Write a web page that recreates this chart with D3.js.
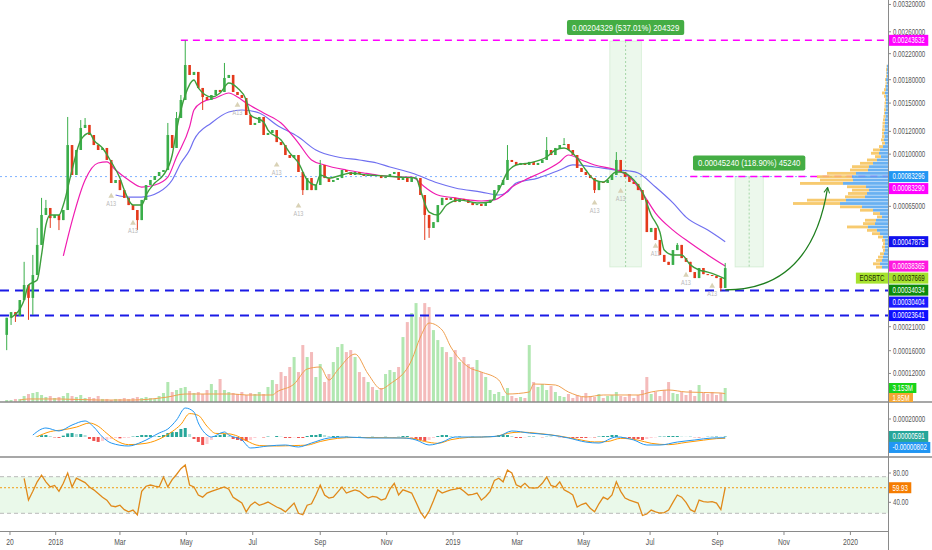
<!DOCTYPE html>
<html>
<head>
<meta charset="utf-8">
<script src="https://cdn.jsdelivr.net/npm/d3@7"></script>
<style>
html,body{margin:0;padding:0;background:#fff;}
svg{display:block;font-family:"Liberation Sans","DejaVu Sans",Arial,sans-serif;}
</style>
</head>
<body>
<svg id="chart" width="932" height="550"></svg>
<script>
// ================= DATA (prices in satoshi, 1 sat = 0.00000001 BTC) =================
const firstCandleDate = "2017-11-17";
const candleDays = 4;
const firstOpen = 19200;
const closes = [
23100,24500,23600,27700,32100,28300,35300,46500,60400,64100,
58800,60400,57800,63000,107600,84400,103400,123300,126300,116600,
107600,103400,105100,95400,79000,81000,74500,69800,65700,63000,
57800,68600,77700,81000,83700,86500,87900,116600,105100,133400,
153700,201600,186700,191100,168800,157300,153700,159800,166200,163600,
182400,186700,163600,159800,156100,136600,126300,128300,134500,116600,
118500,121300,110200,107600,99300,97000,99300,86500,74500,82300,
74500,77700,91600,82300,79700,81000,82300,87900,86500,84400,
86500,85100,83700,84400,83700,84400,82300,83000,85100,86500,
81000,82300,79700,82300,82300,71500,60400,54000,56800,65700,
69800,68600,69800,67400,69200,68600,66900,65700,66300,65200,
66900,68600,74500,77700,81000,95400,93900,91600,93100,91600,
93900,91600,93100,95400,103400,99300,105100,107600,108500,103400,
99300,89400,86500,84400,82300,74500,79700,79000,81000,84400,
95400,86500,83000,79700,78400,74500,68600,52100,54000,48600,
42500,39900,38800,44400,46500,41300,39900,36300,34300,37700,
35600,35300,35000,34300,31200,37669];
const highWicks = [[4,39900],[6,42500],[7,54000],[8,69800],[9,68600],[14,134500],[17,131300],[18,133400],
 [37,128300],[39,139900],[40,159800],[41,243632],[50,204800],[72,95400],[115,107600],[124,114700],
 [128,113800],[140,101700],[154,47300],[165,39500]];
const lowWicks = [[0,16100],[1,21400],[2,22100],[5,22600],[6,23800],[10,54000],[12,53000],[30,53000],
 [45,142100],[68,71500],[96,48600],[97,49500],[135,72700],[164,30300]];
// daily volume in millions
const volumes = [
0.45,0.45,0.68,0.68,1.35,1.8,2.03,2.25,1.58,1.13,1.35,0.9,1.13,1.35,2.03,
1.35,1.13,1.58,0.9,1.13,0.9,1.35,0.68,0.68,0.45,0.68,0.68,0.9,0.68,0.9,
1.13,0.9,1.13,0.9,0.68,1.35,2.03,4.5,2.25,2.7,3.15,3.38,2.48,2.03,2.25,1.8,2.7,4.05,
2.7,5.18,2.7,2.25,2.03,1.8,2.25,1.58,2.03,1.8,2.25,1.8,
3.38,4.95,4.05,6.75,5.85,7.88,10.13,6.75,12.83,10.13,11.25,5.63,8.55,4.5,6.3,9.0,
12.38,13.05,11.25,11.7,10.13,6.75,5.63,4.5,3.38,2.7,3.15,6.3,7.2,6.75,7.88,
14.63,18.0,20.03,22.28,19.13,22.28,21.38,16.2,13.95,12.38,11.25,10.13,11.7,9.0,
10.13,8.55,7.88,9.45,6.75,5.63,2.7,1.8,2.25,1.35,3.15,1.35,0.9,1.13,0.9,12.83,4.5,
3.38,4.05,2.7,3.6,2.25,1.35,1.13,1.8,0.9,1.58,1.13,2.03,1.35,1.13,1.8,0.9,1.35,1.58,
2.25,1.35,1.13,1.8,0.9,1.58,2.7,5.63,1.8,2.25,1.35,2.7,4.5,2.03,1.8,2.25,1.58,2.7,
1.35,3.83,2.03,1.8,2.25,1.58,2.03,3.153];
const volumeMA = [[3,0.45],[5,0.68],[12,0.68],[21,0.45],[29,0.45],[37,1.13],[41,1.8],[47,1.8],[52,1.8],
 [55,1.58],[61,1.58],[62,2.25],[66,4.05],[69,7.43],[72,7.88],[74,4.95],[76,7.2],[80,10.8],[83,6.3],
 [86,2.93],[88,4.05],[93,9.45],[95,14.63],[97,17.78],[100,16.2],[102,12.38],[104,9.68],[106,7.88],
 [109,6.75],[113,4.95],[115,1.8],[120,2.25],[121,4.05],[126,3.83],[129,2.25],[133,1.13],[137,1.58],
 [145,1.58],[148,2.25],[152,2.7],[156,2.25],[164,2.03],[165,1.85]];
// moving averages: [candle index, price in sat]
const maFast = [[1,23100],[4,27700],[5,32100],[7,33700],[8,42500],[9,55400],[10,60400],[12,60400],[13,65700],
 [15,87900],[17,112000],[19,118500],[20,112000],[22,105100],[24,93900],[26,82300],[27,74500],[29,65700],
 [31,65700],[32,71500],[34,79000],[36,84400],[38,99300],[39,121300],[41,159800],[43,179600],[44,168800],
 [47,157300],[49,162300],[51,175400],[53,168800],[55,153700],[56,136600],[59,129300],[60,121300],
 [63,112000],[65,101000],[67,93100],[69,81000],[71,77700],[72,84400],[74,82300],[77,84400],[79,85800],
 [81,85100],[83,84400],[87,83700],[90,83000],[94,82300],[95,74500],[97,61900],[99,60400],[101,65700],
 [104,68600],[108,66900],[111,67400],[113,74500],[115,86500],[117,91600],[120,93100],[124,97700],
 [126,103400],[128,105100],[131,97000],[133,87900],[135,81000],[137,79700],[140,86500],[141,86500],
 [144,81000],[146,73300],[148,60400],[150,52100],[151,44400],[153,42500],[155,42500],[157,38800],
 [159,37000],[161,36300],[163,35300],[165,34034]];
const ma50 = [[13,42100],[15,57300],[18,81000],[21,93100],[23,93900],[25,87900],[28,81000],[31,76400],
 [34,77700],[37,83000],[39,97700],[42,124300],[43,142100],[45,151300],[48,156100],[51,162300],[53,157300],
 [55,150100],[59,138800],[63,128300],[67,109300],[70,95400],[73,91600],[78,87900],[82,85800],[85,84400],
 [91,83000],[93,83000],[96,76400],[99,71500],[103,69800],[109,68000],[112,68600],[114,71500],[116,76400],
 [119,81000],[123,86500],[127,93900],[129,99300],[132,95400],[135,91600],[140,87900],[143,83000],
 [146,72700],[149,61400],[153,53000],[157,47300],[160,43600],[165,38365]];
const ma100 = [[25,71500],[28,70300],[31,70300],[35,73300],[38,81000],[40,93100],[42,103400],[43,112000],
 [47,128300],[51,139900],[54,142100],[58,138800],[62,126300],[67,114700],[71,103400],[76,97700],
 [81,95400],[85,93100],[88,90100],[93,85800],[99,79000],[103,75800],[109,73300],[113,71500],[115,73300],
 [117,79000],[122,82300],[127,87900],[130,91600],[135,90100],[140,87900],[143,87200],[145,85800],
 [149,76400],[153,66900],[156,59300],[161,53000],[165,47875]];
// MACD (sat)
const macdLine = [[6,2200],[9,10000],[12,6700],[15,13300],[18,17800],[20,11100],[22,0],[24,-6700],[28,-10000],
 [31,-5600],[35,4400],[37,8900],[39,18900],[41,32200],[43,27800],[44,15600],[46,2200],[47,0],[50,5600],
 [51,2200],[54,-3300],[56,-12200],[60,-10000],[64,-8900],[67,-11100],[70,-6700],[74,-1100],[78,0],
 [83,-1100],[91,-1100],[94,-3300],[97,-8900],[100,-5600],[103,0],[109,0],[113,1100],[116,6700],[120,4400],
 [125,2200],[129,-1100],[133,-5600],[136,-6700],[140,0],[144,-3300],[147,-8900],[150,-8900],[154,-5600],
 [158,-3300],[162,-1100],[165,-802]];
const macdSignal = [[7,500],[10,6000],[13,8000],[16,11000],[19,15500],[21,12000],[23,4000],[25,-3500],
 [28,-8500],[32,-7000],[36,0],[38,6000],[40,14000],[42,26000],[44,24000],[46,12000],[48,4000],[51,3500],
 [53,1000],[55,-4000],[58,-9500],[62,-10000],[66,-9500],[69,-9000],[72,-5000],[76,-1500],[80,-500],
 [88,-800],[93,-1500],[96,-5000],[99,-7000],[102,-3000],[106,-500],[112,500],[115,4000],[118,5500],
 [122,4000],[127,1000],[131,-2500],[135,-5500],[138,-5000],[141,-1500],[145,-3500],[148,-7000],
 [152,-8500],[156,-6000],[160,-3500],[163,-1800],[165,-1393]];
const macdHist = [null,null,null,null,null,null,null,
 500,2000,2200,1000,-500,-1000,1500,4000,4400,3300,3300,2200,
 -2200,-4400,-5500,-4400,-3300,-2200,-1100,-1500,-1100,-1000,
 500,1100,2200,2200,2200,1100,1100,2200,4400,5500,5500,8900,10000,
 3300,-2200,-5500,-8900,-7800,-3300,1100,2200,3300,1100,-2200,-3300,-4400,-4400,-3300,-1100,
 0,-500,500,0,1100,500,-1100,-1100,-500,-1100,-1100,1100,2200,2200,3300,2200,1100,1100,1100,500,500,0,0,
 300,-300,0,300,-300,0,300,0,-300,300,
 1100,1100,-500,-2200,-3300,-4400,-3300,-1100,1100,2200,2200,1100,500,500,0,-300,300,0,-300,300,
 500,1100,2200,2200,2200,1100,-1100,-1100,-500,500,500,0,-300,300,300,0,-300,-500,-500,-1100,-1100,-1100,-1100,-500,-500,
 500,1100,1100,2200,2200,500,-500,-1100,-2200,-2200,-3300,-2200,-1100,-500,500,500,1100,1100,1100,500,
 300,300,-300,-500,-300,300,300,500,300,591];
// RSI from candle index 4
const rsiStart = 4;
const rsiValues = [
72.7,43,55,68,77,68,61,63,55,66, 80,61,73,70,67,61,57,52,47,43, 35,34,36,30,27,29.4,23,55,62,63.6,
62,61,74.5,61,71,78,86,91,63.6,61, 50,47,52.7,55,57,59,61,58,47,43, 39,27,36,40.4,36,38,40.4,37,33.6,31,
27,33,39,25,23,36,38,50,63.6,50, 45.8,47,54,61,52.7,55,57,55,50,45.8, 48,47,43,45,58,66,50,57,55,52.7,
40,27,18.5,28,42,57,52.7,55,57,58, 59.5,55,50,51,52.7,43,48,55,70,73, 68,84,80,64,61,66,60,59.5,60,66,
74.5,63,61,68,57,54,50,33.6,37,39, 32,27,38,47,44,50,68,55,45.8,43, 41,39,22,24,29.4,27,25.4,26,29.4,40,
50,47,40,30,27,43,41,40.4,41,39, 30,59.93];
const rsiBands = [75, 25];
// visible-range volume profile (rows top -> bottom)
const profileTop = 202000, profileBottom = 37500;
const profileUp = [1,1,1.5,1,2,1.5,2,2,3,2,2,2,2.5,2,3,2.5,3,3,3.5,3,4,3.5,4,3,5,8,9,7,11,15,19,20,32,36,35,45,22,19,21,23,42,48,26,15,8,6,12,13,20,11,8,5,3,3,3,3,4,5,6,8,6];
const profileDown = [0.5,1,0.5,1,1,1,1,2,3,2,1,1.5,1,2,1,2,2,2.5,2,3,2,2.5,3,3,4,7,8,6,10,13,17,18,29,35,33,43,19,17,19,20,39,47,22,13,7,5,11,12,21,10,8,5,3,2,3,2,4,5,6,7,6];
// axes
const xTickDates = ["2017-11-20","2018-01-01","2018-03-01","2018-05-01","2018-07-01","2018-09-01","2018-11-01",
 "2019-01-01","2019-03-01","2019-05-01","2019-07-01","2019-09-01","2019-11-01","2020-01-01"];
const xTickLabels = ["20","2018","Mar","May","Jul","Sep","Nov","2019","Mar","May","Jul","Sep","Nov","2020"];
const priceTicks = [320000,260000,220000,180000,150000,120000,100000,65000,21000,16000,12000];
const macdTicks = [20000];
const rsiTicks = [80, 40];
// drawings
const hLevels = [
 {p:83296, from:null, color:"#7fb2ff", dash:"2 3", w:1},
 {p:243632, from:"2018-04-26", color:"#ff00ff", dash:"7 5", w:1.5},
 {p:83290, from:"2019-08-07", color:"#ff00ff", dash:"7 5", w:1.5},
 {p:30404, from:null, color:"#1a1ae6", dash:"9 6", w:2},
 {p:23641, from:null, color:"#1a1ae6", dash:"9 6", w:2}];
const measures = [
 {from:"2019-05-25", to:"2019-06-23", p0:38050, p1:242379, text:"0.00204329 (537.01%) 204329"},
 {from:"2019-09-17", to:"2019-10-13", p0:38049, p1:83289, text:"0.00045240 (118.90%) 45240"}];
const arrowPts = [["2019-09-08",30600],["2019-11-26",30600],["2019-12-11",75800]];
const signalMarks = [[24,72700],[29,57800],[53,151300],[62,93900],[67,66900],[135,68600],[141,75800],[149,47300],[156,36300],[162,32700]];
const priceLabels = [
 {p:243632, bg:"#ff00ff"},{p:83296, bg:"#2196f3"},{p:83290, bg:"#ff00ff"},{p:47875, bg:"#1010ee"},
 {p:38365, bg:"#ff1adf"},{p:37669, bg:"#a6e22e", fg:"#1b2a00", sym:"EOSBTC"},{p:34034, bg:"#0c8a0c"},
 {p:30404, bg:"#1a1aff"},{p:23641, bg:"#0f0fff"}];
const volLabels = [{v:3.153, text:"3.153M", bg:"#19d419"},{v:1.85, text:"1.85M", bg:"#f5a733"}];
const macdLabels = [{v:591, text:"0.00000591", bg:"#26a69a"},{v:-802, text:"-0.00000802", bg:"#2196f3"}];
const rsiLast = 59.93;

// ================= LAYOUT / SCALES =================
const W = 932, PR = 888, MAIN_B = 402, MACD_B = 457, RSI_B = 531;
const UP = "#3aae4a", DN = "#e4391b";
const parseD = d3.utcParse("%Y-%m-%d");
const t0 = parseD(firstCandleDate);
const dateOf = i => d3.utcDay.offset(t0, i * candleDays);
const x = d3.scaleUtc().domain([parseD("2018-01-01"), parseD("2020-01-01")]).range([55.7, 850.4]);
const y = d3.scaleSymlog().constant(10000).domain([242379, 38050]).range([41, 267]);
const yVol = d3.scaleLinear().domain([0, 25]).range([MAIN_B, MAIN_B - 111]);
const yMacd = d3.scaleLinear().domain([0, 20000]).range([437, 419]);
const yRsi = d3.scaleLinear().domain([0, 100]).range([531.6, 458.4]);
const fmtP = v => (v / 1e8).toFixed(8);
const bw = 2.6;

const svg = d3.select("#chart");
svg.append("rect").attr("width", W).attr("height", 550).attr("fill", "#fff");
const defs = svg.append("defs");
const clip = (id, x0, y0, w, h) => defs.append("clipPath").attr("id", id).append("rect").attr("x", x0).attr("y", y0).attr("width", w).attr("height", h);
clip("cMain", 0, 0, PR, MAIN_B); clip("cMacd", 0, MAIN_B, PR, MACD_B - MAIN_B); clip("cRsi", 0, MACD_B, PR, RSI_B - MACD_B);
clip("cAxMain", PR, 0, W - PR, MAIN_B);
defs.append("marker").attr("id", "arr").attr("viewBox", "0 0 10 10").attr("refX", 8).attr("refY", 5)
  .attr("markerWidth", 7).attr("markerHeight", 7).attr("markerUnits", "userSpaceOnUse").attr("orient", "auto")
  .append("path").attr("d", "M1,1 L9,5 L1,9").attr("fill", "none").attr("stroke", "#1e7e1e").attr("stroke-width", 1.4);

function ctext(sel, x0, y0, str, o = {}) {
  const sx = o.sx ?? 0.72;
  return sel.append("text").attr("transform", `translate(${x0},${y0}) scale(${sx},1)`)
    .attr("font-size", o.size ?? 8.5).attr("fill", o.fill ?? "#555").attr("text-anchor", o.anchor ?? "start")
    .attr("dominant-baseline", "central").text(str);
}
function boxLabel(sel, x0, yc, str, bg, fg = "#fff", h = 11) {
  const t = ctext(sel, x0 + 3.5, yc, str, {fill: fg});
  const w = t.node().getComputedTextLength() * 0.72 + 7;
  sel.insert("rect", () => t.node()).attr("x", x0).attr("y", yc - h / 2).attr("width", w).attr("height", h).attr("fill", bg);
  return w;
}
function stack(arr, f, gap) {
  const s = arr.map(d => ({...d, yc: f(d)}));
  s.sort((a, b) => a.yc - b.yc);
  for (let k = 1; k < s.length; k++) if (s[k].yc < s[k - 1].yc + gap) s[k].yc = s[k - 1].yc + gap;
  return s;
}

// candles
const hiMap = new Map(highWicks), loMap = new Map(lowWicks);
const candles = closes.map((c, i) => {
  const o = i ? closes[i - 1] : firstOpen;
  return {i, d: dateOf(i), o, c, h: hiMap.get(i) ?? Math.max(o, c), l: loMap.get(i) ?? Math.min(o, c), v: volumes[i]};
});

// ================= MAIN PANE =================
const main = svg.append("g").attr("clip-path", "url(#cMain)");
// volume
main.append("g").selectAll("rect").data(candles).join("rect")
  .attr("x", d => x(d.d) - 1.5).attr("width", 3).attr("y", d => yVol(d.v)).attr("height", d => MAIN_B - yVol(d.v))
  .attr("fill", d => d.c >= d.o ? "#a9e4a9" : "#f3b4b4").attr("opacity", 0.9);
main.append("path").datum(volumeMA).attr("fill", "none").attr("stroke", "#f0a050").attr("stroke-width", 1)
  .attr("d", d3.line().x(d => x(dateOf(d[0]))).y(d => yVol(d[1])).curve(d3.curveMonotoneX));
// measure rectangles
measures.forEach(m => {
  const x0 = x(parseD(m.from)), x1 = x(parseD(m.to));
  main.append("rect").attr("x", x0).attr("width", x1 - x0).attr("y", y(m.p1)).attr("height", y(m.p0) - y(m.p1))
    .attr("fill", "rgba(110,200,110,0.13)").attr("stroke", "rgba(120,200,120,0.25)").attr("stroke-width", 0.8);
  main.append("line").attr("x1", (x0 + x1) / 2).attr("x2", (x0 + x1) / 2).attr("y1", y(m.p1)).attr("y2", y(m.p0))
    .attr("stroke", "#a5d6a7").attr("stroke-dasharray", "2 2");
});
// horizontal levels
hLevels.forEach(l => {
  main.append("line").attr("x1", l.from ? x(parseD(l.from)) : 0).attr("x2", PR).attr("y1", y(l.p)).attr("y2", y(l.p))
    .attr("stroke", l.color).attr("stroke-width", l.w).attr("stroke-dasharray", l.dash);
});
// volume profile
const yProf = d3.scaleBand().domain(d3.range(profileUp.length)).range([y(profileTop), y(profileBottom)]).paddingInner(0.15);
const wProf = d3.scaleLinear().domain([0, 100]).range([0, 100]);
const gp = main.append("g");
profileUp.forEach((u, k) => {
  const dn = profileDown[k];
  gp.append("rect").attr("x", PR - wProf(u)).attr("width", wProf(u)).attr("y", yProf(k)).attr("height", yProf.bandwidth()).attr("fill", "#5aa9f0").attr("opacity", 0.9);
  gp.append("rect").attr("x", PR - wProf(u) - wProf(dn)).attr("width", wProf(dn)).attr("y", yProf(k)).attr("height", yProf.bandwidth()).attr("fill", "#f6c45f").attr("opacity", 0.9);
});
// moving averages
const maLine = d3.line().x(d => x(dateOf(d[0]))).y(d => y(d[1])).curve(d3.curveMonotoneX);
main.append("path").datum(ma100).attr("fill", "none").attr("stroke", "#7070f0").attr("stroke-width", 1.2).attr("d", maLine);
main.append("path").datum(ma50).attr("fill", "none").attr("stroke", "#f01cb0").attr("stroke-width", 1.2).attr("d", maLine);
// candles
const gc = main.append("g");
gc.selectAll("line").data(candles).join("line")
  .attr("x1", d => x(d.d)).attr("x2", d => x(d.d)).attr("y1", d => y(d.h)).attr("y2", d => y(d.l))
  .attr("stroke", d => d.c >= d.o ? UP : DN).attr("stroke-width", 1);
gc.selectAll("rect").data(candles).join("rect")
  .attr("x", d => x(d.d) - bw / 2).attr("width", bw)
  .attr("y", d => y(Math.max(d.o, d.c))).attr("height", d => Math.max(1, y(Math.min(d.o, d.c)) - y(Math.max(d.o, d.c))))
  .attr("fill", d => d.c >= d.o ? UP : DN);
main.append("path").datum(maFast).attr("fill", "none").attr("stroke", "#3d9f3d").attr("stroke-width", 1.4).attr("d", maLine);
// signal marks
signalMarks.forEach(s => {
  const cx = x(dateOf(s[0])), cy = y(s[1]);
  main.append("path").attr("d", d3.symbol(d3.symbolTriangle, 14)()).attr("transform", `translate(${cx},${cy + 3})`).attr("fill", "#d9d2b6");
  ctext(main, cx, cy + 11, "A13", {size: 6.5, fill: "#b9b9b9", anchor: "middle", sx: 0.85});
});
// arrow
{
  const p = arrowPts.map(a => [x(parseD(a[0])), y(a[1])]);
  main.append("path").attr("d", `M${p[0][0]},${p[0][1]} Q${p[1][0]},${p[1][1]} ${p[2][0]},${p[2][1]}`)
    .attr("fill", "none").attr("stroke", "#1e7e1e").attr("stroke-width", 1.3).attr("marker-end", "url(#arr)");
}
// measure labels
measures.forEach(m => {
  const cx = (x(parseD(m.from)) + x(parseD(m.to))) / 2, yb = y(m.p1) - 6;
  const g = svg.append("g");
  const t = ctext(g, cx, yb - 7.5, m.text, {size: 9.5, sx: 0.82, fill: "#fff", anchor: "middle"});
  const w = t.node().getComputedTextLength() * 0.82 + 10;
  g.insert("rect", () => t.node()).attr("x", cx - w / 2).attr("y", yb - 15).attr("width", w).attr("height", 15).attr("rx", 2).attr("fill", "#44ad44");
});

// ================= MACD PANE =================
const gm = svg.append("g").attr("clip-path", "url(#cMacd)");
gm.append("g").selectAll("rect").data(macdHist.map((v, i) => ({i, v, prev: i ? macdHist[i - 1] : null})).filter(d => d.v != null)).join("rect")
  .attr("x", d => x(dateOf(d.i)) - 1.5).attr("width", 3)
  .attr("y", d => Math.min(yMacd(d.v), yMacd(0))).attr("height", d => Math.abs(yMacd(d.v) - yMacd(0)))
  .attr("fill", d => d.v >= 0 ? ((d.prev == null || d.v >= d.prev) ? "#26a69a" : "#b2dfdb") : ((d.prev == null || d.v <= d.prev) ? "#ef5350" : "#ffcdd2"));
const mLine = d3.line().x(d => x(dateOf(d[0]))).y(d => yMacd(d[1])).curve(d3.curveMonotoneX);
gm.append("path").datum(macdSignal).attr("fill", "none").attr("stroke", "#ff9800").attr("stroke-width", 1).attr("d", mLine);
gm.append("path").datum(macdLine).attr("fill", "none").attr("stroke", "#2196f3").attr("stroke-width", 1).attr("d", mLine);

// ================= RSI PANE =================
const gr = svg.append("g").attr("clip-path", "url(#cRsi)");
gr.append("rect").attr("x", 0).attr("width", PR).attr("y", yRsi(rsiBands[0])).attr("height", yRsi(rsiBands[1]) - yRsi(rsiBands[0])).attr("fill", "#eaf9ea");
rsiBands.forEach(b => gr.append("line").attr("x1", 0).attr("x2", PR).attr("y1", yRsi(b)).attr("y2", yRsi(b)).attr("stroke", "#b9b9b9").attr("stroke-dasharray", "4 3"));
gr.append("line").attr("x1", 0).attr("x2", PR).attr("y1", yRsi(rsiLast)).attr("y2", yRsi(rsiLast)).attr("stroke", "#f39c12").attr("stroke-dasharray", "2 2");
gr.append("path").datum(rsiValues.map((v, k) => [rsiStart + k, v])).attr("fill", "none").attr("stroke", "#e0891a").attr("stroke-width", 1.3)
  .attr("d", d3.line().x(d => x(dateOf(d[0]))).y(d => yRsi(d[1])));

// ================= FRAME / AXES =================
[MAIN_B, MACD_B].forEach(yy => svg.append("line").attr("x1", 0).attr("x2", W).attr("y1", yy).attr("y2", yy).attr("stroke", "#8a8a8a").attr("stroke-width", 1.5));
svg.append("line").attr("x1", PR + 0.5).attr("x2", PR + 0.5).attr("y1", 0).attr("y2", 550).attr("stroke", "#8a8a8a");
svg.append("line").attr("x1", 0).attr("x2", PR).attr("y1", RSI_B + 0.5).attr("y2", RSI_B + 0.5).attr("stroke", "#8a8a8a");
// x ticks
xTickDates.forEach((s, k) => {
  const xx = x(parseD(s));
  svg.append("line").attr("x1", xx).attr("x2", xx).attr("y1", RSI_B).attr("y2", RSI_B + 4).attr("stroke", "#8a8a8a");
  ctext(svg, xx, 542, xTickLabels[k], {size: 9, sx: 0.75, anchor: "middle"});
});
// right axis ticks
const gax = svg.append("g").attr("clip-path", "url(#cAxMain)");
const tick = (g, yy, str) => {
  g.append("line").attr("x1", PR).attr("x2", PR + 3).attr("y1", yy).attr("y2", yy).attr("stroke", "#8a8a8a");
  ctext(g, PR + 5, yy, str);
};
priceTicks.forEach(v => tick(gax, y(v), fmtP(v)));
macdTicks.forEach(v => tick(svg, yMacd(v), fmtP(v)));
rsiTicks.forEach(v => tick(svg, yRsi(v), v.toFixed(2)));
// price labels
stack(priceLabels, d => y(d.p), 12).forEach(d => {
  boxLabel(gax, PR + 1, d.yc, fmtP(d.p), d.bg, d.fg ?? "#fff", 11);
  if (d.sym) {
    const t = ctext(svg, PR - 3.5, d.yc, d.sym, {fill: d.fg, anchor: "end"});
    const w = t.node().getComputedTextLength() * 0.72 + 7;
    svg.insert("rect", () => t.node()).attr("x", PR - w).attr("y", d.yc - 5.5).attr("width", w).attr("height", 11).attr("fill", d.bg);
  }
});
stack(volLabels, d => yVol(d.v), 10).forEach(d => boxLabel(gax, PR + 1, d.yc, d.text, d.bg, "#fff", 10));
stack(macdLabels, d => yMacd(d.v), 11).forEach(d => boxLabel(svg, PR + 1, d.yc, d.text, d.bg, "#fff", 11));
boxLabel(svg, PR + 1, yRsi(rsiLast), rsiLast.toFixed(2), "#f57c00", "#fff", 11);
</script>
</body>
</html>
